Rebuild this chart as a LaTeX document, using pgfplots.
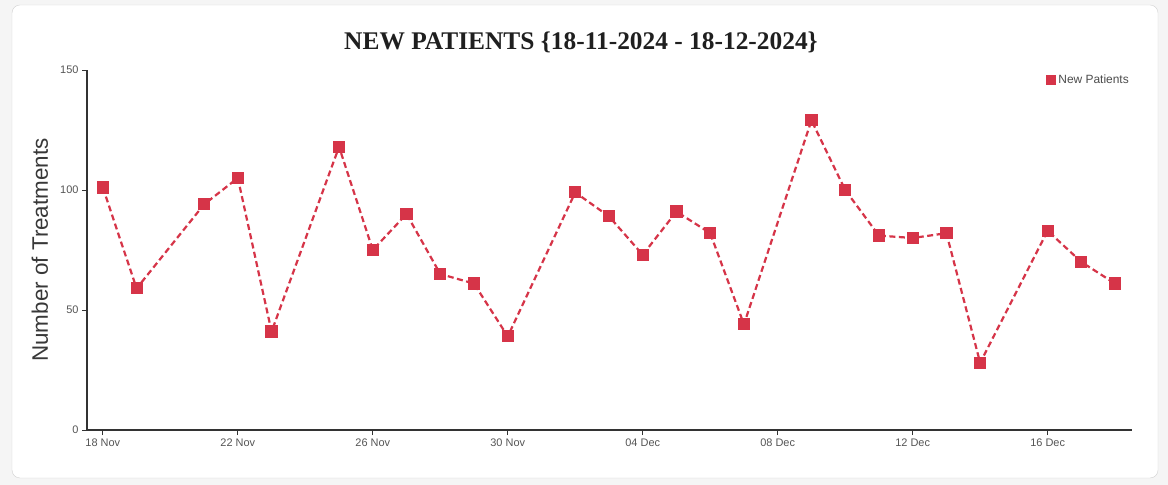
\documentclass[border=0pt]{standalone}
\usepackage{pgfplots}
\pgfplotsset{compat=1.18}
\usepackage{fontspec}
\setmainfont{Liberation Sans}
\newfontfamily\titlefont{Liberation Serif}
\definecolor{np}{RGB}{214,52,72}
\definecolor{tickgray}{RGB}{85,85,85}
\begin{document}
\begin{tikzpicture}
\fill[black!4] (0bp,0bp) rectangle (1168bp,485bp);
\draw[black!18, fill=white, rounded corners=8bp] (12bp,7bp) rectangle (1158bp,480bp);
\node[font=\titlefont\bfseries\fontsize{25.5}{28}\selectfont, text=black!88] at (581bp,443bp) {NEW PATIENTS \{18-11-2024 - 18-12-2024\}};
\begin{axis}[
  at={(87bp,55bp)}, anchor=south west, scale only axis,
  width=1045bp, height=360bp,
  xmin=-0.47, xmax=30.5, ymin=0, ymax=150,
  axis lines=left,
  axis line style={-, line width=1.1bp, black!80},
  xtick={0,4,8,12,16,20,24,28},
  xticklabels={18 Nov,22 Nov,26 Nov,30 Nov,04 Dec,08 Dec,12 Dec,16 Dec},
  ytick={0,50,100,150},
  tick style={black!80, line width=0.8bp},
  tick align=outside,
  major tick length=5bp,
  ticklabel style={font=\fontsize{11}{13}\selectfont, text=tickgray},
  /pgf/number format/assume math mode=true,
  ylabel={Number of Treatments},
  ylabel style={at={(axis description cs:-0.045,0.5)}, anchor=center, font=\fontsize{22.5}{26}\selectfont, text=black!78},
  legend style={at={(axis description cs:1,0.995)}, anchor=north east, draw=none, fill=none, font=\fontsize{12}{14}\selectfont, text=black!70, inner sep=1bp, /tikz/every even column/.append style={column sep=0bp}},
  legend cell align=left,
]
\addplot[np, line width=2.2bp, dash pattern=on 6bp off 3.5bp, mark=square*, mark size=5bp, mark options={solid, fill=np, draw=np},
  legend image code/.code={\fill[np, solid] (2bp,-4.2bp) rectangle (10.4bp,4.2bp);}]
coordinates {
(0,101) (1,59) (3,94) (4,105) (5,41) (7,118) (8,75) (9,90) (10,65) (11,61) (12,39)
(14,99) (15,89) (16,73) (17,91) (18,82) (19,44) (21,129) (22,100) (23,81) (24,80)
(25,82) (26,28) (28,83) (29,70) (30,61)
};
\addlegendentry{New Patients}
\end{axis}
\end{tikzpicture}
\end{document}
